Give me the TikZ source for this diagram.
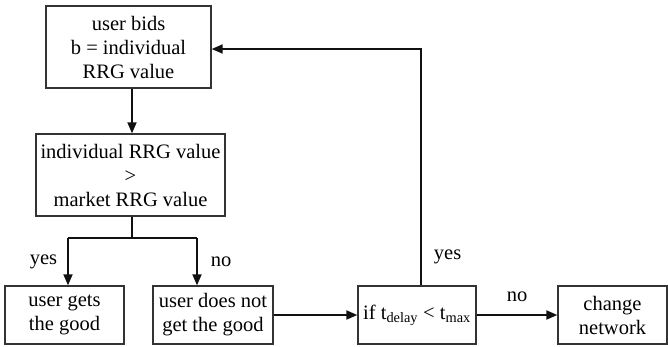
\documentclass[tikz,border=0pt]{standalone}
\usepackage{fontspec}
\setmainfont{Liberation Serif}
\usepackage{xcolor}
\usepackage{tikz}
\usetikzlibrary{arrows.meta, positioning, calc}
\definecolor{fline}{HTML}{333333}
\definecolor{fblack}{HTML}{111111}
\tikzset{
  box/.style={rectangle, draw=fline, line width=1.3pt, fill=white, align=center,
              inner sep=0pt, font=\fontsize{20.5}{24}\selectfont},
  flow/.style={-{Triangle[length=11pt, width=9pt]}, draw=fblack, line width=1.8pt},
  link/.style={draw=fblack, line width=1.8pt},
  lbl/.style={font=\fontsize{20.5}{24}\selectfont, inner sep=0pt}
}
\begin{document}
\begin{tikzpicture}[x=1pt, y=-1pt]
  \useasboundingbox (0,0) rectangle (668,346);
  \node[box, minimum width=165pt, minimum height=82pt] (bids) at (128.5,47)
    {user bids\\b = individual\\RRG value};
  \node[box, minimum width=189pt, minimum height=82pt] (cmp) at (130.5,175)
    {individual RRG value\\>\\market RRG value};
  \node[box, minimum width=119pt, minimum height=58pt] (gets) at (64.5,315)
    {user gets\\the good};
  \node[box, minimum width=120pt, minimum height=58pt] (notget) at (213,315)
    {user does not\\get the good};
  \node[box, minimum width=118pt, minimum height=58pt] (cond) at (417,315)
    {if t\textsubscript{delay} < t\textsubscript{max}};
  \node[box, minimum width=109pt, minimum height=58pt] (change) at (612.5,315)
    {change\\network};

  \coordinate (split) at (132,238);
  \coordinate (yesc) at (68,238);
  \coordinate (noc) at (197,238);

  \draw[flow] (bids.south -| split) -- (cmp.north -| split);
  \draw[link] (cmp.south -| split) -- (split);
  \draw[link] (yesc) -- (noc);
  \draw[flow] (yesc) -- node[lbl, left=10pt]{yes} (yesc |- gets.north);
  \draw[flow] (noc) -- node[lbl, right=13pt]{no} (noc |- notget.north);
  \draw[flow] (notget) -- (cond);
  \draw[flow] (cond) -- node[lbl, above=12pt]{no} (change);
  \draw[flow] ([xshift=4pt]cond.north) |- node[lbl, pos=0.06, right=12pt]{yes} ([yshift=-2pt]bids.east);
\end{tikzpicture}
\end{document}
